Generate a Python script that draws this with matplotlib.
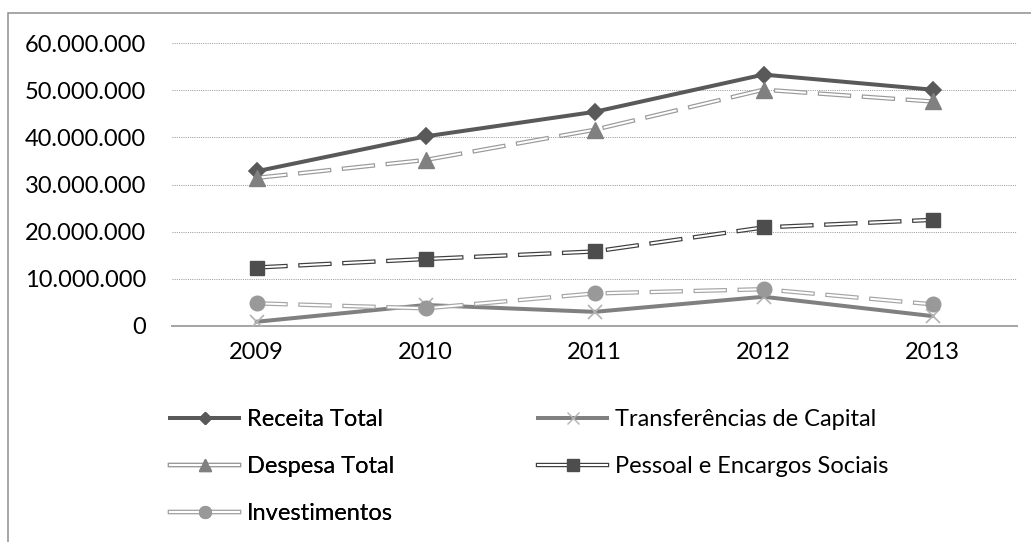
import matplotlib
matplotlib.use("Agg")
import matplotlib.pyplot as plt
import matplotlib.patheffects as pe
from matplotlib.lines import Line2D
from matplotlib.patches import Rectangle
from matplotlib.ticker import FuncFormatter, MultipleLocator

# Dados
anos = ["2009", "2010", "2011", "2012", "2013"]
receita_total = [32.8e6, 40.2e6, 45.4e6, 53.3e6, 50.1e6]
transferencias_capital = [0.9e6, 4.45e6, 3.0e6, 6.2e6, 2.1e6]
despesa_total = [31.4e6, 35.2e6, 41.6e6, 50.1e6, 47.6e6]
pessoal_encargos = [12.4e6, 14.2e6, 15.8e6, 20.9e6, 22.5e6]
investimentos = [4.8e6, 3.75e6, 6.9e6, 7.8e6, 4.6e6]

nomes = ["Receita Total", "Transferências de Capital", "Despesa Total",
         "Pessoal e Encargos Sociais", "Investimentos"]

plt.rcParams["font.family"] = ["Lato", "DejaVu Sans"]
plt.rcParams["lines.scale_dashes"] = False

W, H = 1031, 542
PX = 0.72  # 1 pixel em pontos (dpi 100)
FS = 17

fig = plt.figure(figsize=(W / 100, H / 100), dpi=100)
ax = fig.add_axes([172 / W, 1 - 326 / H, 845 / W, 283 / H])
xs = list(range(len(anos)))


def linha_simples(y, cor, marcador, cor_marcador, ms, ms_leg):
    ax.plot(xs, y, color=cor, lw=4 * PX, solid_capstyle="round", zorder=3)
    ax.plot(xs, y, ls="none", marker=marcador, color=cor_marcador,
            mec=cor_marcador, ms=ms, mew=1.2, zorder=4)
    px_l = Line2D([], [], color=cor, lw=4 * PX)
    px_m = Line2D([], [], ls="none", marker=marcador, color=cor_marcador,
                  mec=cor_marcador, ms=ms_leg, mew=1.0)
    return (px_l, px_m)


def linha_dupla(y, cor_borda, marcador, cor_marcador, ms, ms_leg):
    efeito = [pe.Stroke(linewidth=4.4 * PX, foreground=cor_borda), pe.Normal()]
    ax.plot(xs, y, color="white", lw=2 * PX, dashes=(29 * PX, 15 * PX),
            dash_capstyle="projecting", path_effects=efeito, zorder=3)
    ax.plot(xs, y, ls="none", marker=marcador, color=cor_marcador,
            mec=cor_marcador, ms=ms, zorder=4)
    px_l = Line2D([], [], color="white", lw=2 * PX, solid_capstyle="projecting",
                  path_effects=efeito)
    px_m = Line2D([], [], ls="none", marker=marcador, color=cor_marcador,
                  mec=cor_marcador, ms=ms_leg)
    return (px_l, px_m)


h_receita = linha_simples(receita_total, "#595959", "D", "#595959", 8, 6.5)
h_transf = linha_simples(transferencias_capital, "#808080", "x", "#b3b3b3", 10, 8)
h_despesa = linha_dupla(despesa_total, "#9a9a9a", "^", "#808080", 11, 9)
h_pessoal = linha_dupla(pessoal_encargos, "#3f3f3f", "s", "#4d4d4d", 10, 8)
h_invest = linha_dupla(investimentos, "#a6a6a6", "o", "#999999", 10.5, 8.5)

# Eixos
ax.set_xlim(-0.5, len(anos) - 0.5)
ax.set_ylim(0, 60e6)
ax.set_xticks(xs)
ax.set_xticklabels(anos)
ax.yaxis.set_major_locator(MultipleLocator(10e6))
ax.yaxis.set_major_formatter(FuncFormatter(lambda v, p: "{:,.0f}".format(v).replace(",", ".")))
ax.tick_params(axis="both", length=0, labelsize=FS, colors="black")
ax.tick_params(axis="y", pad=26 * PX)
ax.tick_params(axis="x", pad=16 * PX)
for lado in ["top", "right", "left"]:
    ax.spines[lado].set_visible(False)
ax.spines["bottom"].set_color("#a6a6a6")
ax.spines["bottom"].set_linewidth(2 * PX)
ax.spines["bottom"].set_zorder(2)
ax.yaxis.grid(True, color="#9a9a9a", lw=1 * PX, ls=(0, (1 * PX, 1.2 * PX)))
ax.set_axisbelow(True)

# Moldura do gráfico
fig.patches.append(Rectangle((7.5 / W, -0.1), 1.2, 1 - 13 / H + 0.1,
                             transform=fig.transFigure, fill=False,
                             edgecolor="#8c8c8c", lw=1.5 * PX))

# Legenda em duas colunas
opcoes = dict(loc="upper left", frameon=False, fontsize=FS, borderpad=0,
              borderaxespad=0, handlelength=69 / 23.6, handletextpad=8 / 23.6,
              labelspacing=1.1)
leg1 = fig.legend([h_receita, h_despesa, h_invest], [nomes[0], nomes[2], nomes[4]],
                  bbox_to_anchor=(170 / W, 1 - 409 / H), **opcoes)
fig.add_artist(leg1)
fig.legend([h_transf, h_pessoal], [nomes[1], nomes[3]],
           bbox_to_anchor=(538 / W, 1 - 409 / H), **opcoes)

fig.savefig("out.png", dpi=100)
